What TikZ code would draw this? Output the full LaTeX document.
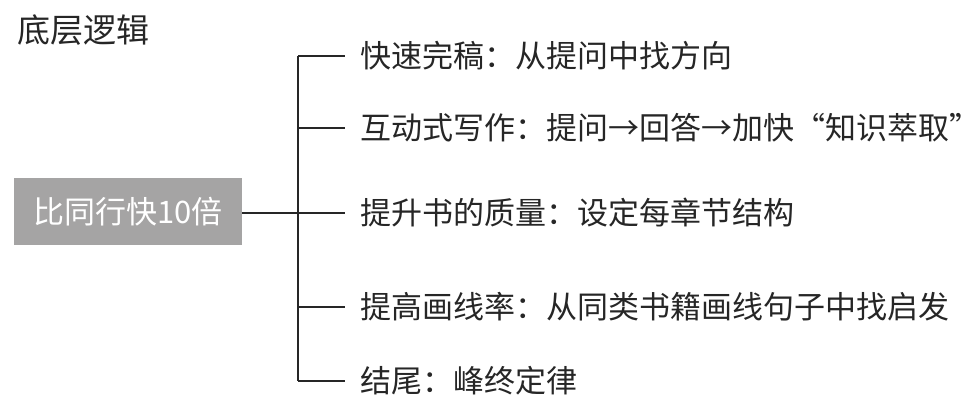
\documentclass[tikz,border=0pt]{standalone}
\usepackage{fontspec}
\newfontfamily\cjk{Noto Sans CJK SC}
\usetikzlibrary{positioning}
\definecolor{rootgray}{HTML}{A5A4A4}
\definecolor{inkgray}{HTML}{262626}

\begin{document}
\begin{tikzpicture}[x=0.5pt,y=-0.5pt,font=\cjk,
root/.style={fill=rootgray, text=white, font=\cjk\fontsize{15.5}{15.5}\selectfont, minimum width=114pt, minimum height=33.5pt, inner sep=0pt},
leaf/.style={anchor=west, text=inkgray, font=\cjk\fontsize{15.5}{15.5}\selectfont, inner sep=0pt},
heading/.style={anchor=west, text=inkgray, font=\cjk\fontsize{16.5}{16.5}\selectfont, inner sep=0pt},
branch/.style={draw=inkgray, line width=1.1pt}]

\useasboundingbox (0,0) rectangle (977,416);
\node[heading] (title) at (17,30) {底层逻辑};
\node[root] (root) at (128,211.5) {比同行快10倍};

\node[leaf] (leaf1) at (360,56) {快速完稿：从提问中找方向};
\node[leaf] (leaf2) at (360,128) {互动式写作：提问→回答→加快“知识萃取\makebox[0.45em][l]{”}};
\node[leaf] (leaf3) at (360,213) {提升书的质量：设定每章节结构};
\node[leaf] (leaf4) at (360,307) {提高画线率：从同类书籍画线句子中找启发};
\node[leaf] (leaf5) at (360,381) {结尾：峰终定律};

% trunk and branches
\coordinate (trunk) at (298,0);
\foreach \i in {1,...,5}{
  \coordinate (fork\i) at (trunk |- leaf\i.west);
  \coordinate (tip\i) at ([xshift=-7.5pt]leaf\i.west);
}
\draw[branch] (fork1) -- (fork5);
\foreach \i in {1,2,4,5}
  \draw[branch] (fork\i) -- (tip\i);
\draw[branch] (root.east |- tip3) -- (tip3);
\end{tikzpicture}
\end{document}
